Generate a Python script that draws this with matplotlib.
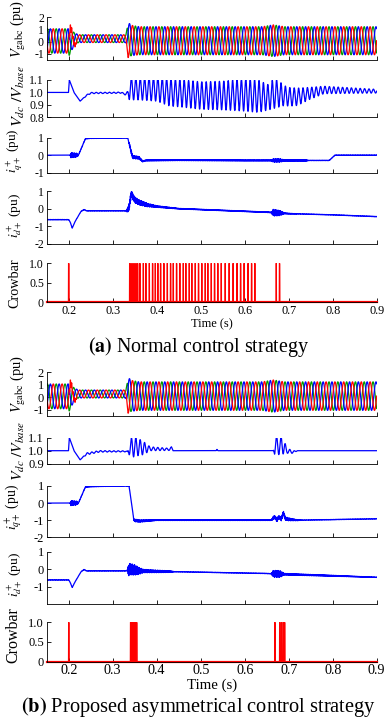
import numpy as np
import matplotlib
matplotlib.use("Agg")
import matplotlib.pyplot as plt

plt.rcParams['font.family'] = ['Liberation Serif', 'DejaVu Serif']
plt.rcParams['mathtext.fontset'] = 'stix'

# ---------------- data ----------------
t_start, t_end = 0.15, 0.9
grid_freq = 50.0        # Hz, grid voltage
dc_ripple_freq = 100.0  # Hz, dc-link oscillation

# three phase grid voltage envelope (same for both cases)
vg_t = [0.15, 0.199, 0.201, 0.212, 0.222, 0.330, 0.335, 0.342, 0.360, 0.640, 0.665, 0.690, 0.900]
vg_amp = [1.0, 1.0, 1.2, 0.55, 0.32, 0.32, 1.45, 1.25, 1.15, 1.15, 1.3, 1.15, 1.15]
vg_off = [0.06, 0.06, 0.06, 0.2, 0.25, 0.25, 0.15, 0.1, 0.08, 0.08, 0.08, 0.08, 0.08]
# fault transient burst on phase a and spike on phase c
vg_burst_t = [0.15, 0.200, 0.202, 0.212, 0.222, 0.9]
vg_burst_amp = [0.0, 0.0, 0.35, 0.2, 0.0, 0.0]
vg_spike_t = [0.15, 0.1995, 0.2005, 0.2015, 0.9]
vg_spike_v = [0.0, 0.0, -0.75, 0.0, 0.0]

# dc-link voltage: mean value and half swing of the 100 Hz ripple
vdc_a_t = [0.15, 0.1995, 0.2015, 0.212, 0.226, 0.240, 0.250, 0.320, 0.328, 0.334, 0.338,
           0.360, 0.400, 0.430, 0.450, 0.500, 0.550, 0.600, 0.630, 0.655, 0.665, 0.675,
           0.690, 0.700, 0.720, 0.745, 0.780, 0.900]
vdc_a_mid = [1.0, 1.0, 1.1, 1.0, 0.93, 0.975, 0.995, 0.998, 0.985, 0.99, 1.03,
             1.03, 1.03, 1.0, 0.995, 0.975, 0.975, 0.98, 0.97, 0.96, 0.99, 0.99,
             0.975, 0.965, 0.965, 0.99, 1.02, 1.01]
vdc_a_half = [0.0, 0.0, 0.0, 0.0, 0.0, 0.005, 0.005, 0.005, 0.005, 0.02, 0.09,
              0.09, 0.1, 0.11, 0.11, 0.11, 0.115, 0.13, 0.13, 0.10, 0.12, 0.11,
              0.08, 0.075, 0.07, 0.05, 0.03, 0.015]

vdc_b_t = [0.15, 0.1995, 0.2015, 0.212, 0.226, 0.240, 0.270, 0.330, 0.334, 0.337,
           0.345, 0.355, 0.370, 0.385, 0.430, 0.4335, 0.437, 0.440, 0.535, 0.537,
           0.539, 0.660, 0.665, 0.668, 0.685, 0.690, 0.695, 0.710, 0.720, 0.900]
vdc_b_mid = [1.0, 1.0, 1.1, 1.0, 0.93, 0.975, 0.995, 0.995, 0.99, 1.02,
             1.03, 1.03, 1.02, 1.015, 1.01, 1.03, 1.0, 1.0, 1.0, 1.01,
             1.0, 1.0, 1.0, 1.04, 1.04, 1.03, 1.0, 0.99, 1.0, 1.0]
vdc_b_half = [0.0, 0.0, 0.0, 0.0, 0.0, 0.008, 0.006, 0.004, 0.004, 0.05,
              0.08, 0.07, 0.05, 0.015, 0.008, 0.0, 0.0, 0.0, 0.0, 0.0,
              0.0, 0.0, 0.0, 0.07, 0.07, 0.05, 0.02, 0.01, 0.0, 0.0]

# positive sequence q current
iq_a_t = [0.15, 0.222, 0.238, 0.250, 0.325, 0.334, 0.338, 0.345, 0.360, 0.368, 0.375,
          0.450, 0.600, 0.700, 0.792, 0.805, 0.900]
iq_a_v = [0.0, 0.0, 0.95, 0.97, 1.0, 1.0, 0.6, -0.1, -0.15, -0.35, -0.3,
          -0.28, -0.3, -0.3, -0.3, 0.0, 0.0]
iq_a_noise_t = [0.15, 0.203, 0.205, 0.218, 0.222, 0.335, 0.340, 0.360, 0.370, 0.660,
                0.665, 0.680, 0.690, 0.740, 0.745, 0.900]
iq_a_noise = [0.0, 0.0, 0.15, 0.12, 0.02, 0.02, 0.1, 0.08, 0.03, 0.03,
              0.1, 0.1, 0.04, 0.04, 0.01, 0.01]

iq_b_t = [0.15, 0.222, 0.238, 0.250, 0.330, 0.337, 0.343, 0.348, 0.360, 0.400,
          0.660, 0.668, 0.673, 0.678, 0.683, 0.688, 0.692, 0.700, 0.720, 0.900]
iq_b_v = [0.0, 0.0, 0.95, 0.97, 1.02, 1.0, 0.0, -1.0, -1.05, -1.0,
          -1.0, -0.8, -1.0, -0.8, -0.95, -0.55, -0.9, -0.95, -1.0, -0.92]
iq_b_noise_t = [0.15, 0.203, 0.205, 0.218, 0.222, 0.345, 0.350, 0.370, 0.400, 0.660,
                0.665, 0.695, 0.720, 0.730, 0.900]
iq_b_noise = [0.0, 0.0, 0.15, 0.12, 0.02, 0.02, 0.08, 0.06, 0.02, 0.02,
              0.1, 0.1, 0.03, 0.01, 0.01]

# positive sequence d current
id_a_t = [0.15, 0.200, 0.204, 0.208, 0.215, 0.228, 0.235, 0.240, 0.330, 0.334, 0.338,
          0.342, 0.350, 0.360, 0.380, 0.400, 0.450, 0.500, 0.650, 0.700, 0.800, 0.900]
id_a_v = [-0.62, -0.62, -0.8, -1.1, -0.7, -0.15, -0.05, -0.12, -0.12, -0.1, 0.2,
          0.85, 0.5, 0.35, 0.2, 0.12, 0.0, -0.05, -0.2, -0.28, -0.35, -0.45]
id_a_noise_t = [0.15, 0.330, 0.336, 0.360, 0.400, 0.450, 0.660, 0.665, 0.680, 0.690, 0.720, 0.900]
id_a_noise = [0.01, 0.01, 0.2, 0.15, 0.05, 0.02, 0.02, 0.2, 0.15, 0.03, 0.01, 0.01]

id_b_t = [0.15, 0.200, 0.204, 0.208, 0.215, 0.228, 0.235, 0.240, 0.330, 0.340,
          0.360, 0.400, 0.450, 0.650, 0.700, 0.800, 0.900]
id_b_v = [-0.62, -0.62, -0.8, -1.05, -0.7, -0.15, -0.02, -0.1, -0.1, 0.0,
          -0.1, -0.13, -0.15, -0.25, -0.3, -0.38, -0.47]
id_b_noise_t = [0.15, 0.333, 0.336, 0.350, 0.370, 0.430, 0.440, 0.660, 0.665, 0.680, 0.690, 0.900]
id_b_noise = [0.01, 0.01, 0.35, 0.3, 0.1, 0.05, 0.01, 0.01, 0.2, 0.2, 0.05, 0.01]

# crowbar on-intervals (start, end)
crowbar_a = [(0.1993, 0.2005), (0.338, 0.357),
             (0.3612, 0.3622), (0.3689, 0.3699), (0.3748, 0.3758), (0.3825, 0.3835),
             (0.3900, 0.3910), (0.3961, 0.3971), (0.4020, 0.4030), (0.4082, 0.4092),
             (0.4157, 0.4167), (0.4234, 0.4244), (0.4309, 0.4319), (0.4370, 0.4380),
             (0.4445, 0.4455), (0.4520, 0.4530), (0.4597, 0.4607), (0.4656, 0.4666),
             (0.4733, 0.4743), (0.4792, 0.4802), (0.4869, 0.4879), (0.4944, 0.4954),
             (0.5019, 0.5029), (0.5096, 0.5106), (0.5156, 0.5166), (0.5233, 0.5243),
             (0.5308, 0.5318), (0.5383, 0.5393), (0.5460, 0.5470), (0.5550, 0.5560),
             (0.5640, 0.5650), (0.5730, 0.5740), (0.5820, 0.5830), (0.5900, 0.5910),
             (0.5980, 0.5990), (0.6070, 0.6080), (0.6150, 0.6160), (0.6225, 0.6235),
             (0.6710, 0.6720), (0.6785, 0.6795)]
crowbar_b = [(0.1995, 0.2007), (0.340, 0.342), (0.344, 0.346), (0.348, 0.350),
             (0.352, 0.355), (0.6680, 0.6692), (0.6790, 0.6802), (0.6830, 0.6842),
             (0.6870, 0.6882), (0.6900, 0.6912)]

x_ticks = [0.2, 0.3, 0.4, 0.5, 0.6, 0.7, 0.8, 0.9]
x_tick_labels = ['0.2', '0.3', '0.4', '0.5', '0.6', '0.7', '0.8', '0.9']

# ---------------- building the traces ----------------
t = np.linspace(t_start, t_end, 15001)


def jitter(time):
    # deterministic fast wiggle used for the noisy bands
    return 0.6 * np.sin(2 * np.pi * 730 * time) + 0.4 * np.sin(2 * np.pi * 1270 * time + 1.0)


def grid_voltage():
    amp = np.interp(t, vg_t, vg_amp)
    off = np.interp(t, vg_t, vg_off)
    burst = np.interp(t, vg_burst_t, vg_burst_amp)
    spike = np.interp(t, vg_spike_t, vg_spike_v)
    w = 2 * np.pi * grid_freq * t
    va = off + amp * np.sin(w) + burst * np.sin(2 * np.pi * 330 * t)
    vb = off + amp * np.sin(w - 2 * np.pi / 3)
    vc = off + amp * np.sin(w + 2 * np.pi / 3) + spike
    return va, vb, vc


def dc_voltage(kt, mid, half):
    v = np.interp(t, kt, mid) + np.interp(t, kt, half) * np.sin(2 * np.pi * dc_ripple_freq * t)
    return np.minimum(v, 1.1)


def current(kt, kv, nt, nv):
    return np.interp(t, kt, kv) + np.interp(t, nt, nv) * jitter(t)


def crowbar_signal(intervals):
    y = np.zeros_like(t)
    for s, e in intervals:
        y[(t >= s) & (t <= e)] = 1.0
    return y


# ---------------- layout in pixels ----------------
W, H = 388, 720
L, R = 46.7, 376.7

fig = plt.figure(figsize=(W / 100, H / 100), dpi=100)
renderer = fig.canvas.get_renderer()


def fit(txt, target, vertical=False):
    # scale a text so its drawn extent matches the reference size in pixels
    bb = txt.get_window_extent(renderer)
    size = bb.height if vertical else bb.width
    txt.set_fontsize(txt.get_fontsize() * target / size)


def add_ax(top, bottom, tick_size):
    ax = fig.add_axes([L / W, 1 - bottom / H, (R - L) / W, (bottom - top) / H])
    ax.spines['top'].set_visible(False)
    ax.spines['right'].set_visible(False)
    for s in ('left', 'bottom'):
        ax.spines[s].set_linewidth(0.6)
    ax.tick_params(direction='in', length=3, width=0.6, labelsize=tick_size, pad=2)
    ax.set_xlim(t_start, t_end)
    ax.set_xticks(x_ticks)
    ax.set_xticklabels([])
    return ax


def label(ax, text, x, y, length):
    ax.set_ylabel(text, fontsize=10)
    ax.yaxis.set_label_coords(x, y)
    fit(ax.yaxis.label, length, vertical=True)


def draw_case(tops, vdc, iq, idd, crow, vdc_lim, vdc_ticks, iq_lim, iq_ticks,
              id_ticks, label_y, label_len, ytick_size, xtick_size, time_width):
    va, vb, vc = grid_voltage()

    # grid voltages
    ax = add_ax(*tops[0], ytick_size)
    ax.plot(t, vb, color=(0, 0.6, 0), lw=0.9)
    ax.plot(t, vc, color='b', lw=0.9)
    ax.plot(t, va, color='r', lw=0.9)
    ax.set_ylim(-1.5, 2)
    ax.set_yticks([-1, 0, 1, 2])
    ax.set_yticklabels(['-1', '0', '1', '2'])
    label(ax, r'$V_{\mathrm{gabc}}$ (pu)', -0.057, label_y[0], label_len[0])

    # dc-link voltage
    ax = add_ax(*tops[1], ytick_size)
    ax.plot(t, vdc, color='b', lw=0.9)
    ax.set_ylim(*vdc_lim)
    ax.set_yticks(vdc_ticks)
    ax.set_yticklabels(['%.1f' % v for v in vdc_ticks])
    label(ax, r'$V_{dc}\ /V_{base}$', -0.06, label_y[1], label_len[1])

    # q current
    ax = add_ax(*tops[2], ytick_size)
    ax.plot(t, iq, color='b', lw=0.9)
    ax.set_ylim(*iq_lim)
    ax.set_yticks(iq_ticks)
    ax.set_yticklabels(['%d' % v for v in iq_ticks])
    label(ax, r'$i^+_{q+}$ (pu)', -0.069, label_y[2], label_len[2])

    # d current
    ax = add_ax(*tops[3], ytick_size)
    ax.plot(t, idd, color='b', lw=0.9)
    ax.set_ylim(-2, 1)
    ax.set_yticks(id_ticks)
    ax.set_yticklabels(['%d' % v for v in id_ticks])
    label(ax, r'$i^+_{d+}$ (pu)', -0.069, label_y[3], label_len[3])

    # crowbar
    ax = add_ax(*tops[4], ytick_size)
    ax.fill_between(t, 0, crow, color='r', lw=0)
    ax.plot(t, crow, color='r', lw=0.8)
    ax.plot([t_start, t_end], [0, 0], color='r', lw=1.6, clip_on=False)
    ax.set_ylim(0, 1)
    ax.set_yticks([0, 0.5, 1])
    ax.set_yticklabels(['0', '0.5', '1.0'])
    ax.set_xticklabels(x_tick_labels, fontsize=xtick_size)
    label(ax, 'Crowbar', -0.078, label_y[4], label_len[4])
    ax.set_xlabel('Time (s)', fontsize=10, labelpad=1)
    fit(ax.xaxis.label, time_width)


# (a) normal control strategy
draw_case([(17.3, 60), (80, 117.3), (137.7, 172.7), (191, 244), (263.3, 302.3)],
          dc_voltage(vdc_a_t, vdc_a_mid, vdc_a_half),
          current(iq_a_t, iq_a_v, iq_a_noise_t, iq_a_noise),
          current(id_a_t, id_a_v, id_a_noise_t, id_a_noise),
          crowbar_signal(crowbar_a),
          (0.8, 1.1), [0.8, 0.9, 1.0, 1.1], (-1, 1), [-1, 0, 1], [-2, -1, 0, 1],
          [0.73, 0.57, 0.62, 0.54, 0.5], [58, 62, 44, 45, 50], 8.5, 8.8, 42)

# (b) proposed asymmetrical control strategy
draw_case([(372.3, 415.7), (437.7, 463.7), (486, 537.3), (551.7, 604), (622.3, 661.7)],
          dc_voltage(vdc_b_t, vdc_b_mid, vdc_b_half),
          current(iq_b_t, iq_b_v, iq_b_noise_t, iq_b_noise),
          current(id_b_t, id_b_v, id_b_noise_t, id_b_noise),
          crowbar_signal(crowbar_b),
          (0.9, 1.1), [0.9, 1.0, 1.1], (-2, 1), [-2, -1, 0, 1], [-1, 0, 1],
          [0.73, 0.5, 0.58, 0.57, 0.68], [58, 60, 46, 45, 56], 9, 10.2, 50)

cap_a = fig.text(199 / W, 1 - 347 / H, r'$\mathbf{(a)}$ Normal control strategy',
                 ha='center', va='center', fontsize=10)
cap_b = fig.text(199 / W, 1 - 707 / H, r'$\mathbf{(b)}$ Proposed asymmetrical control strategy',
                 ha='center', va='center', fontsize=10)
fit(cap_a, 222)
fit(cap_b, 356)

fig.savefig('out.png', dpi=100)
